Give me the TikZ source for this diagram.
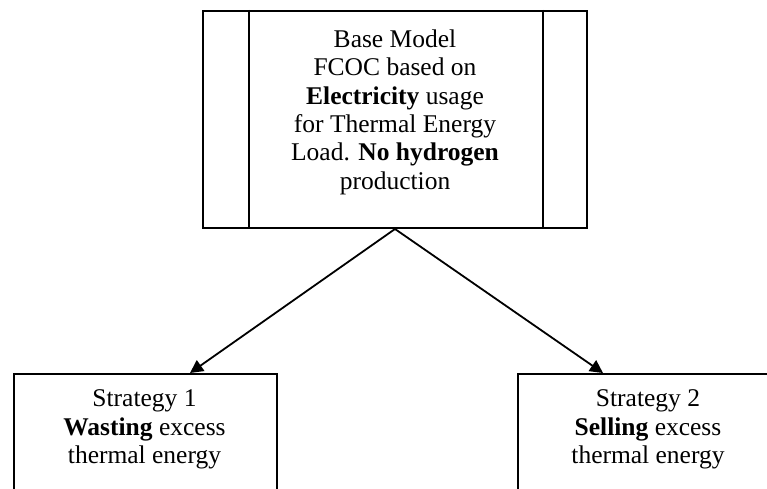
\documentclass[tikz,border=0pt]{standalone}
\usepackage{fontspec}
\setmainfont{Liberation Serif}
\usetikzlibrary{arrows.meta}
\tikzset{
  box/.style={draw, line width=2pt, inner sep=0pt},
  label/.style={align=center, inner sep=0pt, font=\fontsize{25.5}{28.3}\selectfont},
  link/.style={line width=1.8pt, -{Triangle[length=13pt,width=13pt]}}
}
\begin{document}
\begin{tikzpicture}[x=1pt,y=-1pt]
\useasboundingbox (0,0) rectangle (767,489);
\clip (0,0) rectangle (767,489);
% base model box with side bars
\node[box, minimum width=384pt, minimum height=217pt] (base) at (395,119.5) {};
\draw[line width=2pt] ([xshift=47pt]base.north west) -- ([xshift=47pt]base.south west);
\draw[line width=2pt] ([xshift=-45pt]base.north east) -- ([xshift=-45pt]base.south east);
\node[label, anchor=north] (basetext) at (395,29.8)
  {Base Model\\FCOC based on\\\textbf{Electricity} usage\\for Thermal Energy\\Load. \textbf{No hydrogen}\\production};
% strategy boxes (run past the lower edge)
\node[box, minimum width=263pt, minimum height=160pt, anchor=north west] (s1) at (13,373) {};
\node[box, minimum width=250pt, minimum height=160pt, anchor=north west] (s2) at (517,373) {};
\node[label, anchor=north] (s1text) at (144.5,389.8)
  {Strategy 1\\\textbf{Wasting} excess\\thermal energy};
\node[label, anchor=north] (s2text) at (648,389.8)
  {Strategy 2\\\textbf{Selling} excess\\thermal energy};
% connectors
\coordinate (t1) at (190,373);
\coordinate (t2) at (603,373);
\draw[link] (base.south) -- (t1);
\draw[link] (base.south) -- (t2);
\end{tikzpicture}
\end{document}
